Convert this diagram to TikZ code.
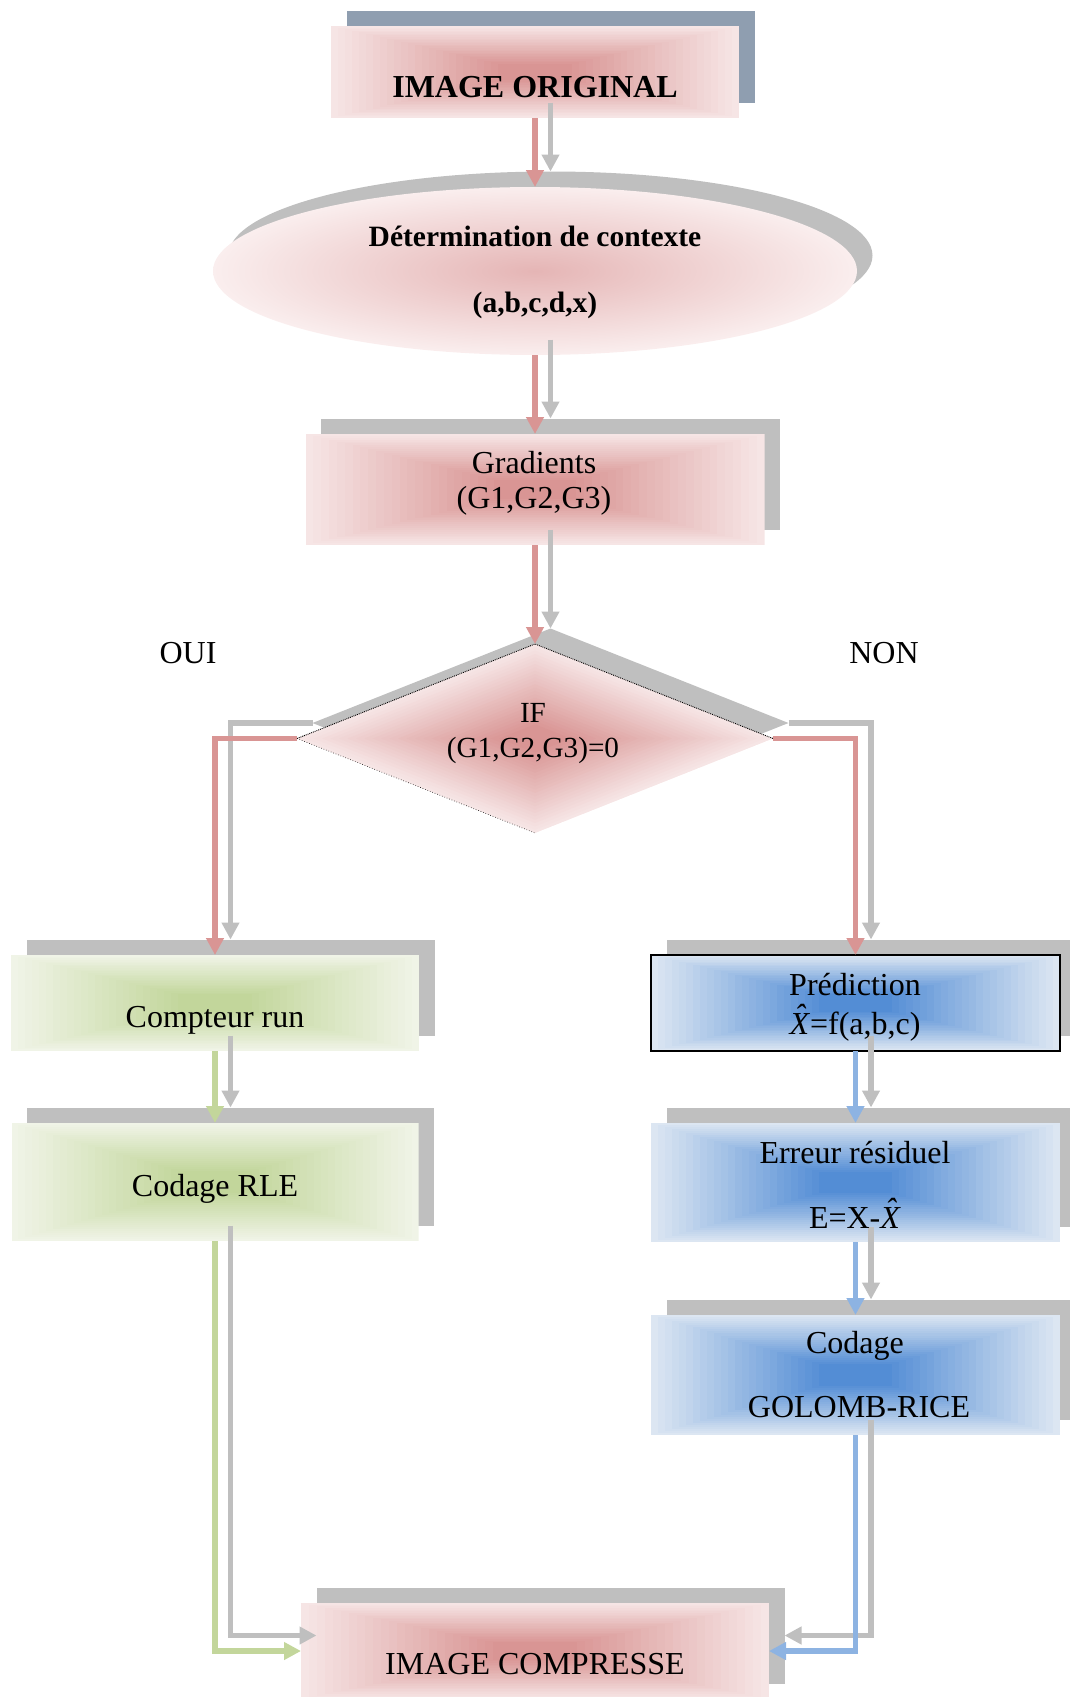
\documentclass[tikz,border=0pt]{standalone}
\usepackage{fontspec}
\setmainfont{Liberation Serif}
\usetikzlibrary{arrows.meta,calc,shapes.geometric}

% fill and shadow colours
\definecolor{pinkE}{RGB}{246,229,229}
\definecolor{pinkC}{RGB}{217,149,148}
\definecolor{greenE}{RGB}{240,244,231}
\definecolor{greenC}{RGB}{194,214,155}
\definecolor{blueE}{RGB}{220,230,242}
\definecolor{blueC}{RGB}{83,141,213}
\definecolor{ellC}{RGB}{229,181,181}
\definecolor{ellE}{RGB}{250,238,238}
\definecolor{shgray}{RGB}{191,191,191}
\definecolor{shslate}{RGB}{143,158,176}
\definecolor{arrRed}{RGB}{217,149,148}
\definecolor{arrGreen}{RGB}{195,214,155}
\definecolor{arrBlue}{RGB}{141,179,226}

\pgfdeclarelayer{shadowlayer}
\pgfsetlayers{shadowlayer,main}

% italic X with a circumflex above it
\newcommand{\Xhat}{\textit{X}\llap{\raisebox{0.22em}{\textit{\char"02C6}}\kern0.12em}}

\tikzset{
  % rectangular gradient from the centre outwards
  rectgrad/.style 2 args={path picture={
    \foreach \k in {0,...,24}{
      \pgfmathsetmacro\gf{1-0.82*\k/24}
      \pgfmathtruncatemacro\gp{100*\k/24}
      \fill[#2!\gp!#1]
        ($(path picture bounding box.center)!\gf!(path picture bounding box.south west)$)
        rectangle
        ($(path picture bounding box.center)!\gf!(path picture bounding box.north east)$);
    }}},
  % the same, with diamond-shaped contours
  diagrad/.style 2 args={path picture={
    \foreach \k in {0,...,24}{
      \pgfmathsetmacro\gf{1-0.85*\k/24}
      \pgfmathtruncatemacro\gp{100*\k/24}
      \fill[#2!\gp!#1]
        ($(path picture bounding box.center)!\gf!(path picture bounding box.north)$) --
        ($(path picture bounding box.center)!\gf!(path picture bounding box.east)$) --
        ($(path picture bounding box.center)!\gf!(path picture bounding box.south)$) --
        ($(path picture bounding box.center)!\gf!(path picture bounding box.west)$) -- cycle;
    }}},
  box/.style={rectangle, inner sep=0pt, outer sep=0pt},
  pinkbox/.style={box, rectgrad={pinkE}{pinkC}},
  greenbox/.style={box, rectgrad={greenE}{greenC}},
  bluebox/.style={box, rectgrad={blueE}{blueC}},
  lbl/.style={anchor=base, inner sep=0pt, font=\fontsize{32}{38}\selectfont},
  dlbl/.style={anchor=base, inner sep=0pt, font=\fontsize{29.2}{35}\selectfont},
  blbl/.style={anchor=base, inner sep=0pt, font=\fontsize{32}{38}\selectfont\bfseries},
  elbl/.style={anchor=base, inner sep=0pt, font=\fontsize{29.5}{35}\selectfont\bfseries},
  conn/.style={line width=5.5pt, -{Triangle[length=17pt,width=17pt]}},
  shcanvas/.style={transform canvas={shift={(15.5pt,15.5pt)}}},
  shconn/.style={conn, draw=shgray, shcanvas},
  redconn/.style={conn, draw=arrRed},
  greenconn/.style={conn, draw=arrGreen},
  blueconn/.style={conn, draw=arrBlue},
}

\begin{document}
\begin{tikzpicture}[x=1pt, y=-1pt]
\useasboundingbox (0,0) rectangle (1070,1697);

% ---- boxes ----
\node[pinkbox, minimum width=408pt, minimum height=92pt] (io) at (535,72) {};
\node[ellipse, inner sep=0pt, outer sep=0pt, minimum width=644pt, minimum height=168pt,
      inner color=ellC, outer color=ellE] (ctx) at (535,271) {};
\node[pinkbox, minimum width=459pt, minimum height=111pt] (grad) at (535,489.5) {};
\node[diamond, inner sep=0pt, outer sep=0pt, minimum width=476pt, minimum height=189pt,
      diagrad={pinkE}{pinkC}] (dia) at (535,738.5) {};
\node[greenbox, minimum width=408pt, minimum height=96pt] (comp) at (215,1003) {};
\node[greenbox, minimum width=407pt, minimum height=118pt] (rle) at (215,1182) {};
\node[bluebox, minimum width=409pt, minimum height=96pt, draw=black, line width=2pt] (pred) at (855.5,1003) {};
\node[bluebox, minimum width=409pt, minimum height=119pt] (err) at (855.5,1182.5) {};
\node[bluebox, minimum width=409pt, minimum height=120pt] (gol) at (855.5,1375) {};
\node[pinkbox, minimum width=468pt, minimum height=96pt] (out) at (535,1651) {};

% dotted outline on the decision diamond
\draw[densely dotted, line width=0.9pt] (dia.west) -- (dia.north) -- (dia.east);
\draw[dotted, line width=0.6pt] (dia.west) -- (dia.south);

% ---- drop shadows ----
\begin{pgfonlayer}{shadowlayer}
  \fill[shslate, shcanvas] (io.south west) rectangle (io.north east);
  \fill[shgray, shcanvas] (ctx.center) ellipse [x radius=322pt, y radius=84pt];
  \fill[shgray, shcanvas] (dia.north) -- (dia.east) -- (dia.south) -- (dia.west) -- cycle;
  \foreach \n in {grad,comp,rle,pred,err,gol,out}
    \fill[shgray, shcanvas] (\n.south west) rectangle (\n.north east);
\end{pgfonlayer}

% ---- connector shadows ----
\draw[shconn] (io.south) -- (ctx.north);
\draw[shconn] (ctx.south) -- (grad.north);
\draw[shconn] (grad.south) -- (dia.north);
\draw[shconn] (dia.west) -| (comp.north);
\draw[shconn] (dia.east) -| (pred.north);
\draw[shconn] (comp.south) -- (rle.north);
\draw[shconn] (pred.south) -- (err.north);
\draw[shconn] (err.south) -- (gol.north);
\draw[shconn] (rle.south) |- (out.west);
\draw[shconn] (gol.south) |- (out.east);

% ---- connectors ----
\draw[redconn] (io.south) -- (ctx.north);
\draw[redconn] (ctx.south) -- (grad.north);
\draw[redconn] (grad.south) -- (dia.north);
\draw[redconn] (dia.west) -| (comp.north);
\draw[redconn] (dia.east) -| (pred.north);
\draw[greenconn] (comp.south) -- (rle.north);
\draw[blueconn] (pred.south) -- (err.north);
\draw[blueconn] (err.south) -- (gol.north);
\draw[greenconn] (rle.south) |- (out.west);
\draw[blueconn] (gol.south) |- (out.east);

% ---- texts ----
\node[blbl] (io-t) at (535,97) {IMAGE ORIGINAL};
\node[elbl] (ctx-t1) at (535,246) {Détermination de contexte};
\node[elbl] (ctx-t2) at (535,312) {(a,b,c,d,x)};
\node[lbl] (grad-t1) at (534,473) {Gradients};
\node[lbl] (grad-t2) at (534,508) {(G1,G2,G3)};
\node[dlbl] (dia-t1) at (533,722) {IF};
\node[dlbl] (dia-t2) at (533,757) {(G1,G2,G3)=0};
\node[lbl] (oui) at (188,663) {OUI};
\node[lbl] (non) at (884,663) {NON};
\node[lbl] (comp-t) at (215,1027) {Compteur run};
\node[lbl] (rle-t) at (215,1196) {Codage RLE};
\node[lbl] (pred-t1) at (855,995) {Prédiction};
\node[lbl] (pred-t2) at (855,1034) {\Xhat=f(a,b,c)};
\node[lbl] (err-t1) at (855,1163) {Erreur résiduel};
\node[lbl] (err-t2) at (855,1228) {E=X-\Xhat};
\node[lbl] (gol-t1) at (855,1353) {Codage};
\node[lbl] (gol-t2) at (859,1417) {GOLOMB-RICE};
\node[lbl] (out-t) at (535,1674) {IMAGE COMPRESSE};
\end{tikzpicture}
\end{document}
